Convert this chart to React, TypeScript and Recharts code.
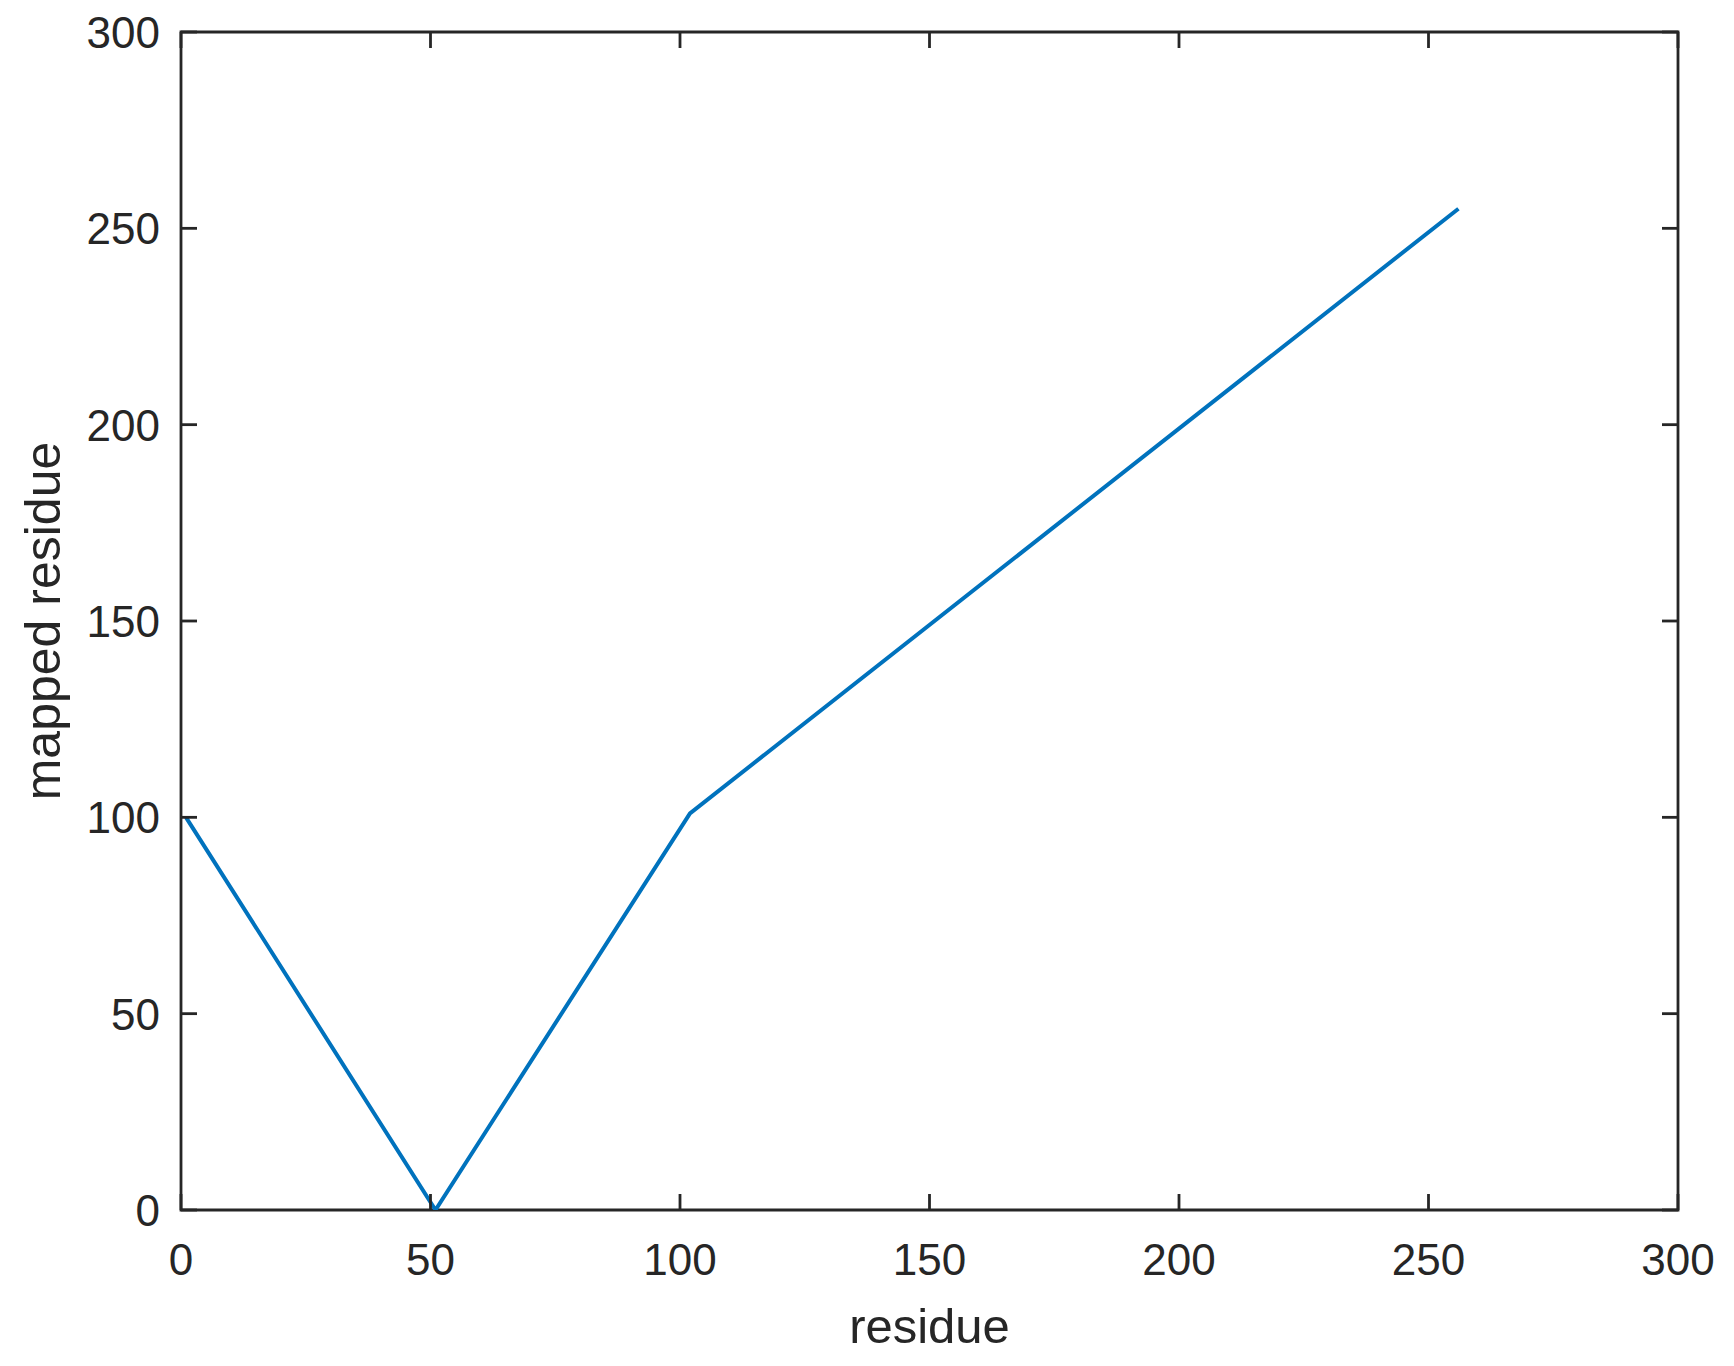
import { Line, LineChart, ReferenceArea, XAxis, YAxis } from "recharts";

const residues = [1, 51, 102, 256];
const mapped = [100, 0, 101, 255];
const xTicks = [0, 50, 100, 150, 200, 250, 300];
const yTicks = [0, 50, 100, 150, 200, 250, 300];

const data = residues.map((r, i) => ({ residue: r, mapped: mapped[i] }));

const INK = "#262626";
const FONT = "'Liberation Sans', Arial, Helvetica, sans-serif";
const TICK_LEN = 16;
const TICK_FONT = 44;

const CHART_W = 1734;
const CHART_H = 1366;
const MARGIN = { top: 32, right: 56, bottom: 0, left: 0 };
const Y_AXIS_W = 181;
const X_AXIS_H = 156;
const PLOT_LEFT = MARGIN.left + Y_AXIS_W;
const PLOT_RIGHT = CHART_W - MARGIN.right;
const PLOT_TOP = MARGIN.top;
const PLOT_BOTTOM = CHART_H - MARGIN.bottom - X_AXIS_H;

// MATLAB-style: ticks point inward, mirrored on the opposite side
function XTick({ x, payload }: any) {
  return (
    <g>
      <line x1={x} y1={PLOT_BOTTOM} x2={x} y2={PLOT_BOTTOM - TICK_LEN} stroke={INK} strokeWidth={2.8} />
      <line x1={x} y1={PLOT_TOP} x2={x} y2={PLOT_TOP + TICK_LEN} stroke={INK} strokeWidth={2.8} />
      <text x={x} y={PLOT_BOTTOM + 65} textAnchor="middle" fill={INK} fontSize={TICK_FONT} fontFamily={FONT}>
        {payload.value}
      </text>
    </g>
  );
}

function YTick({ y, payload }: any) {
  return (
    <g>
      <line x1={PLOT_LEFT} y1={y} x2={PLOT_LEFT + TICK_LEN} y2={y} stroke={INK} strokeWidth={2.8} />
      <line x1={PLOT_RIGHT} y1={y} x2={PLOT_RIGHT - TICK_LEN} y2={y} stroke={INK} strokeWidth={2.8} />
      <text x={PLOT_LEFT - 21} y={y} dy="0.36em" textAnchor="end" fill={INK} fontSize={TICK_FONT} fontFamily={FONT}>
        {payload.value}
      </text>
    </g>
  );
}

function XLabel({ viewBox }: any) {
  const cx = viewBox.x + viewBox.width / 2;
  return (
    <text x={cx} y={PLOT_BOTTOM + 133} textAnchor="middle" fill={INK} fontSize={49} fontFamily={FONT}>
      residue
    </text>
  );
}

function YLabel({ viewBox }: any) {
  const cx = 60;
  const cy = viewBox.y + viewBox.height / 2;
  return (
    <text x={cx} y={cy} transform={`rotate(-90, ${cx}, ${cy})`} textAnchor="middle" fill={INK} fontSize={50} fontFamily={FONT}>
      mapped residue
    </text>
  );
}

export default function App() {
  return (
    <div style={{ position: "absolute", left: 0, top: 0, background: "#fff" }}>
      <LineChart width={CHART_W} height={CHART_H} data={data} margin={MARGIN}>
        <XAxis
          dataKey="residue"
          type="number"
          domain={[0, 300]}
          ticks={xTicks}
          height={X_AXIS_H}
          axisLine={false}
          tickLine={false}
          tick={<XTick />}
          label={<XLabel />}
          interval={0}
          allowDataOverflow
        />
        <YAxis
          type="number"
          domain={[0, 300]}
          ticks={yTicks}
          width={Y_AXIS_W}
          axisLine={false}
          tickLine={false}
          tick={<YTick />}
          label={<YLabel />}
          interval={0}
          allowDataOverflow
        />
        <ReferenceArea x1={0} x2={300} y1={0} y2={300} fill="none" fillOpacity={0} stroke={INK} strokeWidth={2.8} strokeOpacity={1} ifOverflow="visible" />
        <Line
          type="linear"
          dataKey="mapped"
          stroke="#0072BD"
          strokeWidth={4}
          dot={false}
          isAnimationActive={false}
        />
      </LineChart>
    </div>
  );
}
